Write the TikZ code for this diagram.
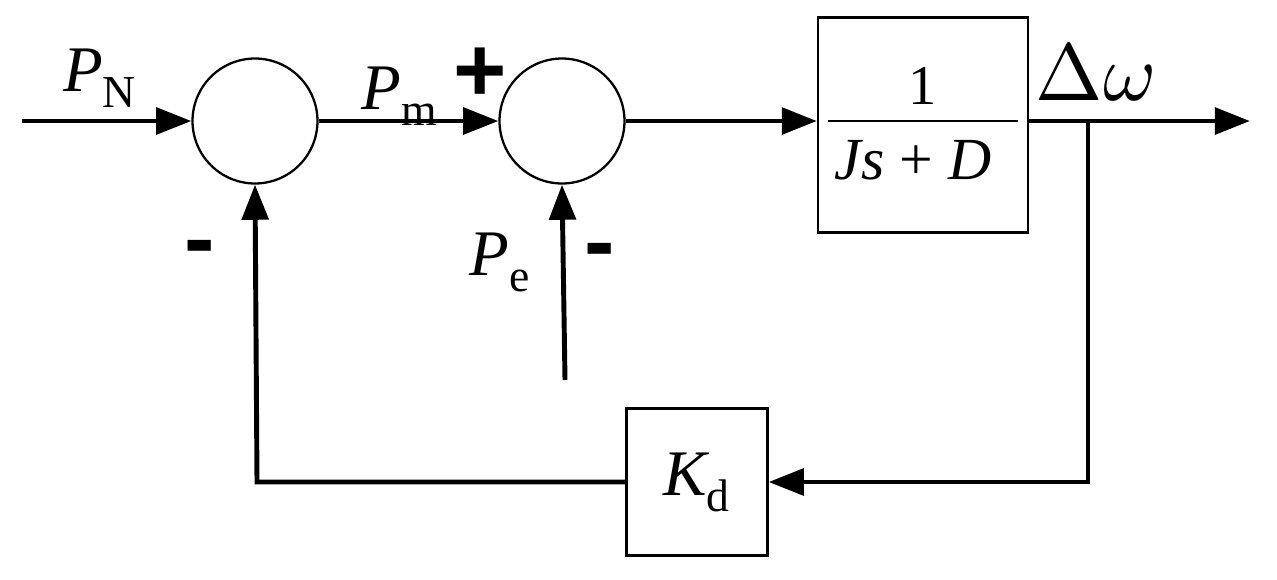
\documentclass[tikz,border=0pt]{standalone}
\usepackage{fontspec}
\setmainfont{Liberation Serif}
\newfontfamily\sgfont{Liberation Sans}
\usepackage{unicode-math}
\setmathfont{Latin Modern Math}
\usetikzlibrary{arrows.meta}
\begin{document}
\begin{tikzpicture}[x=0.02cm,y=-0.02cm,
  ln/.style={line width=2.8pt},
  ar/.style={ln,-{Triangle[length=20pt,width=15pt]}},
  sum/.style={circle,draw,line width=1.3pt,minimum size=2.5cm,inner sep=0},
  blk/.style={draw,line width=1.3pt,inner sep=0},
  lab/.style={font=\fontsize{37}{42}\selectfont},
  sg/.style={font=\fontsize{52}{56}\selectfont\sgfont\bfseries}]
\useasboundingbox (0,0) rectangle (1277,579);
\node[sum] (s1) at (255,121) {};
\node[sum] (s2) at (562,121) {};
\node[blk,minimum width=4.2cm,minimum height=4.3cm] (g) at (923,125) {};
\node[blk,minimum width=2.82cm,minimum height=2.94cm] (k) at (697,482) {};
\coordinate (in) at (22,121);
\coordinate (out) at (1250,121);
\coordinate (br) at (1088,121);
\coordinate (c1) at (1088,482);
\coordinate (c2) at (257,482);
\coordinate (pe) at (565,380);
\draw[ar] (in) -- (s1.west);
\draw[ar] (s1.east) -- (s2.west);
\draw[ar] (s2.east) -- (g.west |- s2.east);
\draw[ar] (g.east |- br) -- (out);
\draw[ar] (br) -- (c1) -- (k.east);
\draw[ar] (k.west) -- (c2) -- (s1.south);
\draw[ar] (pe) -- (s2.south);
\draw[line width=1.3pt] (828,121) -- (1018,121);
\node[lab,font=\fontsize{32}{36}\selectfont] (one) at (923,86) {1};
\node[lab,font=\fontsize{34}{40}\selectfont] (den) at (913,160) {$\mathit{Js}$ + $\mathit{D}$};
\node[lab] (kd) at (697,482) {$\mathit{K}_{\text{\fontsize{26}{30}\selectfont d}}$};
\node[lab] (pn) at (100,78) {$\mathit{P}_{\text{\fontsize{26}{30}\selectfont N}}$};
\node[lab] (pm) at (400,96) {$\mathit{P}_{\text{\fontsize{26}{30}\selectfont m}}$};
\node[lab] (pel) at (500,262) {$\mathit{P}_{\text{\fontsize{26}{30}\selectfont e}}$};
\node[lab,font=\fontsize{46}{50}\selectfont] (dw) at (1095,72) {$\Delta\omega$};
\node[sg] (plus) at (480,75) {+};
\node[sg] (m1) at (200,255) {-};
\node[sg] (m2) at (600,258) {-};
\end{tikzpicture}
\end{document}
